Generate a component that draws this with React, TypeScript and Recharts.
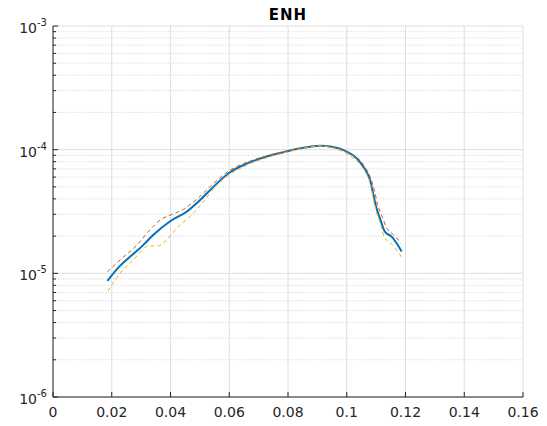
import { CartesianGrid, Line, LineChart, ReferenceLine, XAxis, YAxis } from "recharts";

// readings (x = frequency-like axis, y = log amplitude)
const blueX = [0.0185, 0.0228, 0.0262, 0.0307, 0.0341, 0.04, 0.0455, 0.05, 0.0546, 0.06, 0.0659, 0.0727, 0.0801, 0.0852, 0.0909, 0.0954, 0.0977, 0.1005, 0.1022, 0.1056, 0.1079, 0.109, 0.11, 0.1113, 0.113, 0.1153, 0.1187];
const blueY = [8.7e-6, 1.15e-5, 1.36e-5, 1.69e-5, 2.04e-5, 2.65e-5, 3.15e-5, 3.9e-5, 5.0e-5, 6.5e-5, 7.7e-5, 8.8e-5, 9.75e-5, 1.035e-4, 1.076e-4, 1.05e-4, 1.02e-4, 9.5e-5, 9.0e-5, 7.3e-5, 5.7e-5, 4.4e-5, 3.45e-5, 2.78e-5, 2.17e-5, 1.98e-5, 1.5e-5];

const redX = [0.0185, 0.0228, 0.0285, 0.033, 0.0364, 0.04, 0.0444, 0.0489, 0.0534, 0.0597, 0.066, 0.0727, 0.08, 0.0852, 0.0909, 0.0954, 0.1005, 0.1056, 0.108, 0.1095, 0.1105, 0.112, 0.1135, 0.116, 0.1185];
const redY = [1.03e-5, 1.28e-5, 1.69e-5, 2.24e-5, 2.7e-5, 2.96e-5, 3.29e-5, 3.96e-5, 5.0e-5, 6.7e-5, 7.9e-5, 8.9e-5, 9.8e-5, 1.04e-4, 1.08e-4, 1.05e-4, 9.5e-5, 7.6e-5, 6.0e-5, 4.6e-5, 3.6e-5, 2.9e-5, 2.35e-5, 2.05e-5, 1.75e-5];

const yellowX = [0.0187, 0.0228, 0.0273, 0.0324, 0.0358, 0.0387, 0.0421, 0.0466, 0.0512, 0.0551, 0.0597, 0.066, 0.0727, 0.08, 0.0852, 0.0909, 0.0954, 0.1005, 0.1056, 0.108, 0.109, 0.11, 0.1115, 0.1128, 0.115, 0.1187];
const yellowY = [7.2e-6, 1.0e-5, 1.28e-5, 1.66e-5, 1.67e-5, 1.86e-5, 2.31e-5, 2.87e-5, 3.79e-5, 5.0e-5, 6.2e-5, 7.5e-5, 8.6e-5, 9.6e-5, 1.025e-4, 1.07e-4, 1.03e-4, 9.1e-5, 7.0e-5, 5.3e-5, 4.1e-5, 3.2e-5, 2.5e-5, 1.95e-5, 1.75e-5, 1.35e-5];

const xTicks = [0, 0.02, 0.04, 0.06, 0.08, 0.1, 0.12, 0.14, 0.16];
const xTickLabels = ["0", "0.02", "0.04", "0.06", "0.08", "0.1", "0.12", "0.14", "0.16"];
const decadeTicks = [1e-6, 1e-5, 1e-4, 1e-3];
const decadeExps = ["-6", "-5", "-4", "-3"];
const minorTicks = [
  2e-6, 3e-6, 4e-6, 5e-6, 6e-6, 7e-6, 8e-6, 9e-6,
  2e-5, 3e-5, 4e-5, 5e-5, 6e-5, 7e-5, 8e-5, 9e-5,
  2e-4, 3e-4, 4e-4, 5e-4, 6e-4, 7e-4, 8e-4, 9e-4,
];
const allYTicks = [...decadeTicks, ...minorTicks].sort((a, b) => a - b);

const toPts = (xs: number[], ys: number[]) => xs.map((x, i) => ({ x, y: ys[i] }));

const AX = "#262626";
const FONT = "'DejaVu Sans', sans-serif";

function isDecade(v: number) {
  return decadeTicks.some((d) => Math.abs(v / d - 1) < 1e-6);
}

function LeftTick(props: any) {
  const { x, y, payload } = props;
  const v = payload.value;
  const major = isDecade(v);
  const idx = decadeTicks.findIndex((d) => Math.abs(v / d - 1) < 1e-6);
  return (
    <g>
      <line x1={x} x2={x + (major ? 5 : 3)} y1={y} y2={y} stroke={AX} strokeWidth={1} />
      {major && (
        <text x={x - 6} y={y + 7} textAnchor="end" fill={AX} fontSize={14} fontFamily={FONT}>
          10
          <tspan dy={-7} fontSize={10}>
            {decadeExps[idx]}
          </tspan>
        </text>
      )}
    </g>
  );
}

function RightTick(props: any) {
  const { x, y, payload } = props;
  const major = isDecade(payload.value);
  return <line x1={x} x2={x - (major ? 5 : 3)} y1={y} y2={y} stroke={AX} strokeWidth={1} />;
}

function BottomTick(props: any) {
  const { x, y, index } = props;
  return (
    <g>
      <line x1={x} x2={x} y1={y} y2={y - 5} stroke={AX} strokeWidth={1} />
      <text x={x} y={y + 20} textAnchor="middle" fill={AX} fontSize={14} fontFamily={FONT}>
        {xTickLabels[index]}
      </text>
    </g>
  );
}

function TopTick(props: any) {
  const { x, y } = props;
  return <line x1={x} x2={x} y1={y} y2={y + 5} stroke={AX} strokeWidth={1} />;
}

export default function App() {
  return (
    <div style={{ position: "absolute", left: 0, top: 0, width: 547, height: 426, background: "#fff", fontFamily: FONT }}>
      <div
        style={{
          position: "absolute",
          left: 53,
          width: 470,
          top: 6,
          textAlign: "center",
          fontSize: 15,
          fontWeight: "bold",
          color: "#000",
          letterSpacing: 1,
        }}
      >
        ENH
      </div>
      <LineChart width={547} height={426} margin={{ top: 26, right: 24, bottom: 0, left: 0 }}>
        <CartesianGrid horizontal={false} vertical stroke="#dedede" strokeWidth={1} />
        {minorTicks.map((v) => (
          <ReferenceLine key={v} y={v} stroke="#d4d4d4" strokeDasharray="1 1.5" strokeWidth={1} />
        ))}
        {decadeTicks.map((v) => (
          <ReferenceLine key={v} y={v} stroke="#dedede" strokeWidth={1} />
        ))}
        <XAxis
          dataKey="x"
          type="number"
          domain={[0, 0.16]}
          ticks={xTicks}
          height={29}
          interval={0}
          allowDataOverflow
          tickLine={false}
          tickSize={0}
          tickMargin={0}
          tick={<BottomTick />}
          axisLine={{ stroke: AX, strokeWidth: 1 }}
        />
        <XAxis
          xAxisId="top"
          orientation="top"
          dataKey="x"
          type="number"
          domain={[0, 0.16]}
          ticks={xTicks}
          height={0}
          interval={0}
          allowDataOverflow
          tickLine={false}
          tickSize={0}
          tickMargin={0}
          tick={<TopTick />}
          axisLine={{ stroke: AX, strokeWidth: 1 }}
        />
        <YAxis
          scale="log"
          type="number"
          domain={[1e-6, 1e-3]}
          ticks={allYTicks}
          width={53}
          interval={0}
          allowDataOverflow
          tickLine={false}
          tickSize={0}
          tickMargin={0}
          tick={<LeftTick />}
          axisLine={{ stroke: AX, strokeWidth: 1 }}
        />
        <YAxis
          yAxisId="right"
          orientation="right"
          scale="log"
          type="number"
          domain={[1e-6, 1e-3]}
          ticks={allYTicks}
          width={0}
          interval={0}
          allowDataOverflow
          tickLine={false}
          tickSize={0}
          tickMargin={0}
          tick={<RightTick />}
          axisLine={{ stroke: AX, strokeWidth: 1 }}
        />
        <Line
          data={toPts(blueX, blueY)}
          dataKey="y"
          type="monotone"
          stroke="#0072BD"
          strokeWidth={2}
          dot={false}
          isAnimationActive={false}
        />
        <Line
          data={toPts(redX, redY)}
          dataKey="y"
          type="monotone"
          stroke="#D95319"
          strokeWidth={1}
          strokeDasharray="4 3"
          dot={false}
          isAnimationActive={false}
        />
        <Line
          data={toPts(yellowX, yellowY)}
          dataKey="y"
          type="monotone"
          stroke="#EDB120"
          strokeWidth={1}
          strokeDasharray="4 3"
          dot={false}
          isAnimationActive={false}
        />
      </LineChart>
    </div>
  );
}
